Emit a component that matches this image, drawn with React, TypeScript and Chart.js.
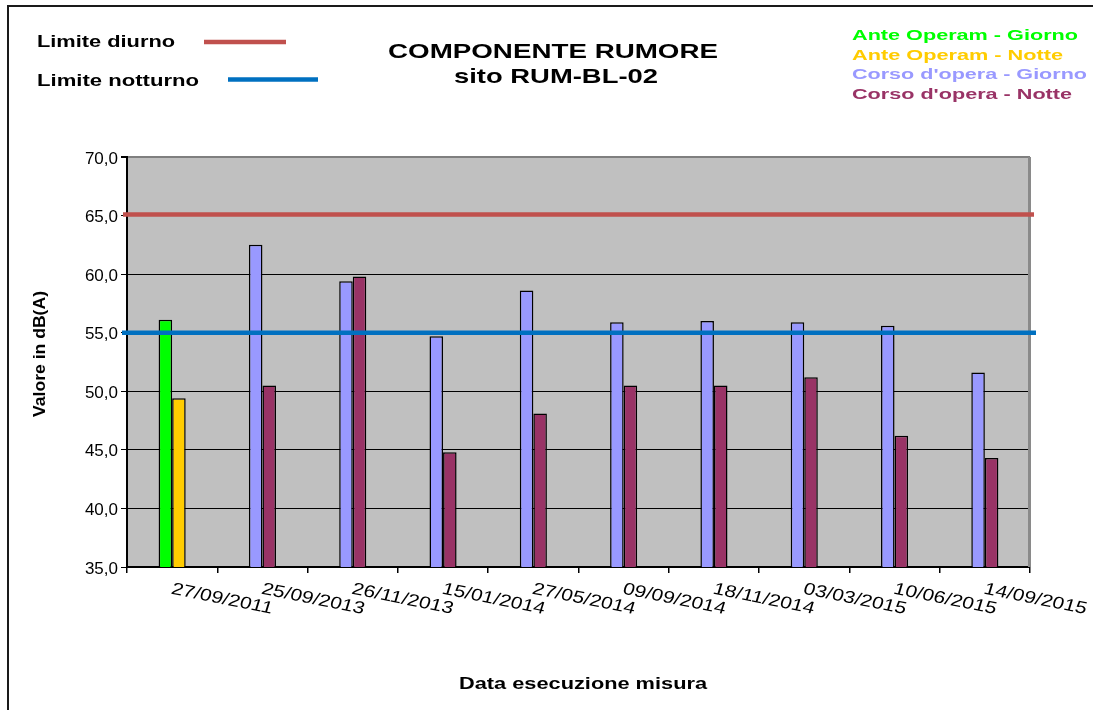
import React, { useEffect, useRef } from "react";
import { Chart, registerables } from "chart.js";

Chart.register(...registerables);

const dates = [
  "27/09/2011",
  "25/09/2013",
  "26/11/2013",
  "15/01/2014",
  "27/05/2014",
  "09/09/2014",
  "18/11/2014",
  "03/03/2015",
  "10/06/2015",
  "14/09/2015",
];
const anteOperamGiorno = [56.1, null, null, null, null, null, null, null, null, null];
const anteOperamNotte = [49.4, null, null, null, null, null, null, null, null, null];
const corsoOperaGiorno = [null, 62.5, 59.4, 54.7, 58.6, 55.9, 56.0, 55.9, 55.6, 51.6];
const corsoOperaNotte = [null, 50.5, 59.8, 44.8, 48.1, 50.5, 50.5, 51.2, 46.2, 44.3];
const limiteDiurno = 65;
const limiteNotturno = 55;
const yMin = 35;
const yMax = 70;
const yStep = 5;

const FONT = '"Liberation Sans", Arial, sans-serif';

function fitText(
  ctx: CanvasRenderingContext2D,
  text: string,
  x: number,
  y: number,
  font: string,
  width: number,
  align: "left" | "center" | "right" = "left",
  color = "#000"
) {
  ctx.save();
  ctx.font = font;
  ctx.fillStyle = color;
  ctx.textBaseline = "alphabetic";
  ctx.textAlign = "left";
  const w = ctx.measureText(text).width;
  const s = width / w;
  let x0 = x;
  if (align === "center") x0 = x - width / 2;
  else if (align === "right") x0 = x - width;
  ctx.translate(x0, y);
  ctx.scale(s, 1);
  ctx.fillText(text, 0, 0);
  ctx.restore();
}

const decorPlugin = {
  id: "decor",
  beforeDraw(chart: any) {
    const { ctx, chartArea } = chart;
    ctx.save();
    ctx.fillStyle = "#C0C0C0";
    ctx.fillRect(chartArea.left, chartArea.top, chartArea.right - chartArea.left, chartArea.bottom - chartArea.top);
    ctx.restore();
  },
  afterDatasetsDraw(chart: any) {
    const { ctx, chartArea, scales } = chart;
    const y = scales.y;
    ctx.save();
    // right plot border
    ctx.strokeStyle = "#8a8a8a";
    ctx.lineWidth = 3;
    ctx.beginPath();
    ctx.moveTo(chartArea.right - 0.5, chartArea.top);
    ctx.lineTo(chartArea.right - 0.5, chartArea.bottom);
    ctx.stroke();
    // limit lines
    ctx.lineWidth = 4.5;
    ctx.strokeStyle = "#C0504D";
    const yd = y.getPixelForValue(limiteDiurno) - 1;
    ctx.beginPath();
    ctx.moveTo(chartArea.left - 4, yd);
    ctx.lineTo(chartArea.right + 4, yd);
    ctx.stroke();
    ctx.strokeStyle = "#0070C0";
    const yn = y.getPixelForValue(limiteNotturno);
    ctx.beginPath();
    ctx.moveTo(chartArea.left - 5, yn);
    ctx.lineTo(chartArea.right + 6, yn);
    ctx.stroke();
    ctx.restore();
  },
  afterDraw(chart: any) {
    const { ctx, scales } = chart;
    const x = scales.x;
    const y = scales.y;
    ctx.save();
    // outer frame
    ctx.strokeStyle = "#1a1a1a";
    ctx.lineWidth = 2;
    ctx.beginPath();
    ctx.moveTo(8, 712);
    ctx.lineTo(8, 6);
    ctx.lineTo(1100, 6);
    ctx.stroke();

    // left legend
    fitText(ctx, "Limite diurno", 37, 47, `bold 16px ${FONT}`, 138);
    fitText(ctx, "Limite notturno", 37, 86, `bold 16px ${FONT}`, 162);
    ctx.lineWidth = 4.5;
    ctx.strokeStyle = "#C0504D";
    ctx.beginPath();
    ctx.moveTo(204, 42);
    ctx.lineTo(286, 42);
    ctx.stroke();
    ctx.strokeStyle = "#0070C0";
    ctx.beginPath();
    ctx.moveTo(228, 79.5);
    ctx.lineTo(318, 79.5);
    ctx.stroke();

    // title
    fitText(ctx, "COMPONENTE RUMORE", 553, 58, `bold 21px ${FONT}`, 330, "center");
    fitText(ctx, "sito RUM-BL-02", 556, 83, `bold 21px ${FONT}`, 204, "center");

    // right legend
    fitText(ctx, "Ante Operam - Giorno", 852, 39.5, `bold 15px ${FONT}`, 226, "left", "#00FF00");
    fitText(ctx, "Ante Operam - Notte", 852, 59.5, `bold 15px ${FONT}`, 211, "left", "#FFCC00");
    fitText(ctx, "Corso d'opera - Giorno", 852, 79, `bold 15px ${FONT}`, 235, "left", "#9999FF");
    fitText(ctx, "Corso d'opera - Notte", 852, 99, `bold 15px ${FONT}`, 220, "left", "#993366");

    // y tick labels
    y.ticks.forEach((t: any) => {
      const py = y.getPixelForValue(t.value);
      const label = t.value.toFixed(1).replace(".", ",");
      ctx.save();
      ctx.font = `17px ${FONT}`;
      ctx.fillStyle = "#000";
      ctx.textAlign = "right";
      ctx.textBaseline = "alphabetic";
      ctx.fillText(label, 118, py + 6.5);
      ctx.restore();
    });

    // x tick labels (rotated)
    dates.forEach((d, i) => {
      const px = x.getPixelForValue(i);
      ctx.save();
      ctx.font = `17px ${FONT}`;
      ctx.fillStyle = "#000";
      ctx.textAlign = "left";
      ctx.textBaseline = "alphabetic";
      ctx.translate(px - 2, 593.5);
      ctx.scale(1.24, 1);
      ctx.rotate((14 * Math.PI) / 180);
      ctx.fillText(d, 0, 0);
      ctx.restore();
    });

    // y axis title
    ctx.save();
    ctx.translate(40, 354);
    ctx.rotate(-Math.PI / 2);
    ctx.font = `bold 17px ${FONT}`;
    ctx.fillStyle = "#000";
    ctx.textAlign = "center";
    ctx.textBaseline = "middle";
    const tw = ctx.measureText("Valore in dB(A)").width;
    ctx.scale(126 / tw, 1);
    ctx.fillText("Valore in dB(A)", 0, 0);
    ctx.restore();

    // x axis title
    fitText(ctx, "Data esecuzione misura", 583, 689, `bold 17px ${FONT}`, 248, "center");
    ctx.restore();
  },
};

export default function App() {
  const ref = useRef<HTMLCanvasElement | null>(null);

  useEffect(() => {
    document.body.style.margin = "0";
    const canvas = ref.current;
    if (!canvas) return;
    const barCommon = {
      borderColor: "#000",
      borderWidth: 1.5,
      borderSkipped: false as const,
      skipNull: true,
      categoryPercentage: 0.3,
      barPercentage: 1,
    };
    const chart = new Chart(canvas, {
      type: "bar",
      data: {
        labels: dates,
        datasets: [
          { label: "Ante Operam - Giorno", data: anteOperamGiorno, backgroundColor: "#00FF00", ...barCommon },
          { label: "Ante Operam - Notte", data: anteOperamNotte, backgroundColor: "#FFCC00", ...barCommon },
          { label: "Corso d'opera - Giorno", data: corsoOperaGiorno, backgroundColor: "#9999FF", ...barCommon },
          { label: "Corso d'opera - Notte", data: corsoOperaNotte, backgroundColor: "#993366", ...barCommon },
        ] as any,
      },
      options: {
        responsive: false,
        animation: false,
        events: [],
        devicePixelRatio: 1,
        layout: { padding: { left: 0, top: 157, right: 63, bottom: 0 } },
        plugins: {
          legend: { display: false },
          tooltip: { enabled: false },
          title: { display: false },
        },
        scales: {
          x: {
            offset: true,
            grid: {
              offset: true,
              drawOnChartArea: false,
              drawTicks: true,
              tickLength: 6,
              color: "#000",
              lineWidth: 1.5,
            },
            border: { display: true, color: "#000", width: 2 },
            ticks: { display: false },
            afterFit: (s: any) => {
              s.height = 143;
            },
          },
          y: {
            min: yMin,
            max: yMax,
            ticks: { display: false, stepSize: yStep },
            grid: {
              color: (c: any) => (c.tick && c.tick.value === yMax ? "#7f7f7f" : "#000"),
              lineWidth: (c: any) => (c.tick && c.tick.value === yMax ? 2 : 1),
              tickColor: "#000",
              tickLength: 6,
              drawTicks: true,
            },
            border: { display: true, color: "#000", width: 2 },
            afterFit: (s: any) => {
              s.width = 127;
            },
          },
        },
      },
      plugins: [decorPlugin],
    });
    return () => chart.destroy();
  }, []);

  return <canvas ref={ref} width={1093} height={710} style={{ display: "block", width: 1093, height: 710 }} />;
}
